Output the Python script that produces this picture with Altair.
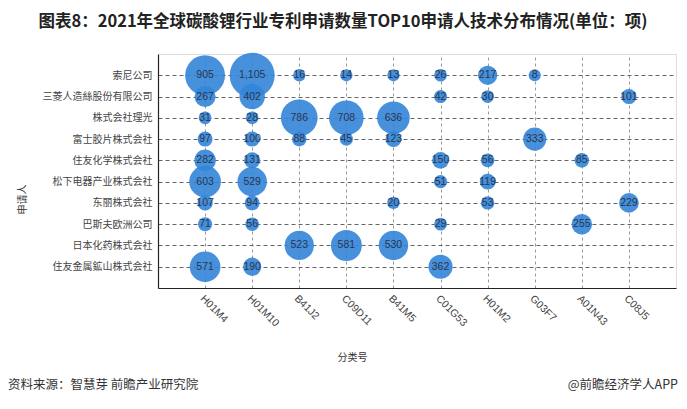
import altair as alt
import pandas as pd

applicants = ["索尼公司", "三菱人造絲股份有限公司", "株式会社理光", "富士胶片株式会社",
              "住友化学株式会社", "松下电器产业株式会社", "东丽株式会社", "巴斯夫欧洲公司",
              "日本化药株式会社", "住友金属鉱山株式会社"]
codes = ["H01M4", "H01M10", "B41J2", "C09D11", "B41M5", "C01G53", "H01M2", "G03F7", "A01N43", "C08J5"]

# values per applicant, aligned with codes (None = no patents)
sony = [905, 1105, 16, 14, 13, 26, 217, 8, None, None]
mitsubishi = [267, 402, None, None, None, 42, 30, None, None, 101]
ricoh = [31, 28, 786, 708, 636, None, None, None, None, None]
fujifilm = [97, 100, 88, 45, 123, None, None, 333, None, None]
sumitomo_chem = [282, 131, None, None, None, 150, 56, None, 85, None]
panasonic = [603, 529, None, None, None, 51, 119, None, None, None]
toray = [107, 94, None, None, 20, None, 53, None, None, 229]
basf = [71, 56, None, None, None, 29, None, None, 255, None]
nippon_kayaku = [None, None, 523, 581, 530, None, None, None, None, None]
sumitomo_metal = [571, 190, None, None, None, 362, None, None, None, None]

rows_values = [sony, mitsubishi, ricoh, fujifilm, sumitomo_chem, panasonic,
               toray, basf, nippon_kayaku, sumitomo_metal]

records = []
for app, vals in zip(applicants, rows_values):
    for code, v in zip(codes, vals):
        if v is not None:
            records.append({"申请人": app, "分类号": code, "数量": v})
df = pd.DataFrame(records)

FONT = "Noto Sans CJK SC"

x_enc = alt.X("分类号:N", sort=codes,
              scale=alt.Scale(type="point", padding=1),
              axis=alt.Axis(title="分类号", labelAngle=45, labelAlign="left", labelBaseline="top",
                            labelFontSize=10.5, labelColor="#444", labelFont="Liberation Sans",
                            labelPadding=5,
                            ticks=False, domainColor="#222", domainWidth=1.2,
                            grid=True, gridDash=[3, 3], gridColor="#999",
                            titleFont=FONT, titleFontSize=10, titleFontWeight="normal", titleColor="#333",
                            titleX=194, titleY=69, titleAlign="center", titleBaseline="middle"))
y_enc = alt.Y("申请人:N", sort=applicants,
              scale=alt.Scale(type="point", padding=1),
              axis=alt.Axis(title="申请人", labelFontSize=10, labelColor="#444", labelFont=FONT,
                            labelPadding=6, ticks=False, domainColor="#222", domainWidth=1.2,
                            grid=True, gridDash=[4, 3], gridColor="#666",
                            titleFont=FONT, titleFontSize=10, titleFontWeight="normal", titleColor="#333",
                            titleX=-136, titleY=145, titleAngle=-90,
                            titleAlign="center", titleBaseline="middle"))

base = alt.Chart(df)

bubbles = base.mark_circle(color="#3385d8", opacity=0.9).encode(
    x=x_enc, y=y_enc,
    size=alt.Size("数量:Q", scale=alt.Scale(type="pow", exponent=1.3, domain=[0, 1105], range=[144, 2025]),
                  legend=None),
)

labels = base.mark_text(fontSize=10.5, color="#2a3550", font="Liberation Sans").encode(
    x=alt.X("分类号:N", sort=codes), y=alt.Y("申请人:N", sort=applicants),
    text=alt.Text("数量:Q", format=","),
)

footer_left = alt.Chart(pd.DataFrame({"t": ["资料来源：智慧芽 前瞻产业研究院"]})).mark_text(
    align="left", baseline="middle", fontSize=12.5, font=FONT, color="#333"
).encode(x=alt.value(-150), y=alt.value(331), text="t:N")

footer_right = alt.Chart(pd.DataFrame({"t": ["@前瞻经济学人APP"]})).mark_text(
    align="right", baseline="middle", fontSize=12.5, font=FONT, color="#333"
).encode(x=alt.value(520), y=alt.value(331), text="t:N")

chart = alt.layer(bubbles, labels, footer_left, footer_right).properties(
    width=518, height=234,
    autosize=alt.AutoSizeParams(type="none"),
    padding={"left": 150, "top": 46, "right": 3, "bottom": 112},
    title=alt.TitleParams(
        "图表8：2021年全球碳酸锂行业专利申请数量TOP10申请人技术分布情况(单位：项)",
        font=FONT, fontSize=16.5, fontWeight="bold", color="#222",
        anchor="middle", dx=-74, offset=22,
    ),
).configure_view(
    stroke="#aaa", strokeDash=[3, 3], strokeWidth=1
).configure(background="white")

chart.save("out.html", embed_options={"renderer": "svg", "actions": False})
